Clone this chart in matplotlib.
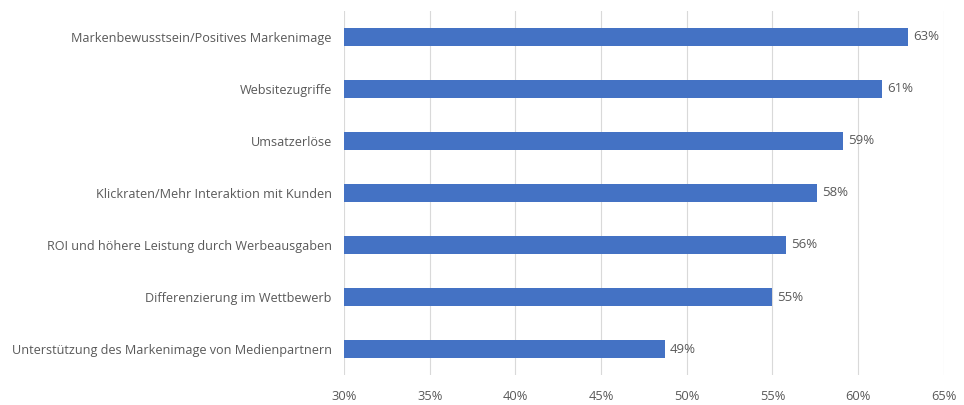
import matplotlib.pyplot as plt

# survey results, top to bottom as drawn
categories = [
    "Markenbewusstsein/Positives Markenimage",
    "Websitezugriffe",
    "Umsatzerlöse",
    "Klickraten/Mehr Interaktion mit Kunden",
    "ROI und höhere Leistung durch Werbeausgaben",
    "Differenzierung im Wettbewerb",
    "Unterstützung des Markenimage von Medienpartnern",
]
shares = [62.9, 61.4, 59.1, 57.6, 55.8, 55.0, 48.7]
x_ticks = [30, 35, 40, 45, 50, 55, 60, 65]

bar_color = "#4472C4"
text_color = "#595959"
grid_color = "#D9D9D9"

plt.rcParams["font.family"] = ["Open Sans", "DejaVu Sans"]

fig = plt.figure(figsize=(9.64, 4.05), dpi=100)
ax = fig.add_axes([0.357, 0.074, 0.622, 0.899])

ypos = list(range(len(categories)))[::-1]
ax.barh(ypos, [s - 30 for s in shares], left=30, height=0.33, color=bar_color, zorder=3)

for y, s in zip(ypos, shares):
    ax.text(s + 0.3, y, f"{s:.0f}%", va="center", ha="left",
            fontsize=9.5, color=text_color)

ax.set_xlim(30, 65)
ax.set_ylim(-0.5, 6.5)
ax.set_xticks(x_ticks)
ax.set_xticklabels([f"{t}%" for t in x_ticks])
ax.set_yticks(ypos)
ax.set_yticklabels(categories)

ax.grid(axis="x", color=grid_color, linewidth=0.8, zorder=0)
for spine in ax.spines.values():
    spine.set_visible(False)
ax.tick_params(axis="y", length=0, pad=9, labelsize=9.1, labelcolor=text_color)
ax.tick_params(axis="x", length=0, pad=11, labelsize=9.3, labelcolor=text_color)

fig.savefig("out.png", dpi=100)
